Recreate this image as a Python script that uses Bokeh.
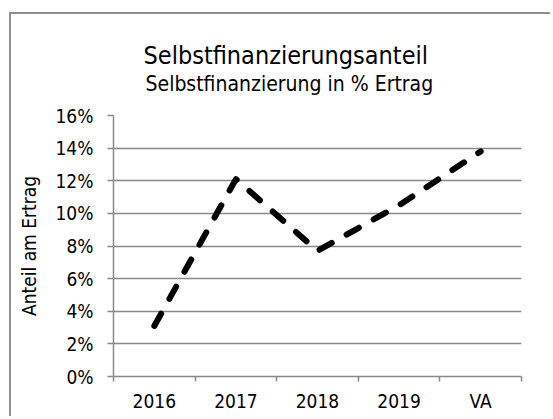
import numpy as np
from bokeh.plotting import figure
from bokeh.models import Range1d, FixedTicker, NumeralTickFormatter, Title, LinearAxis
from bokeh.embed import file_html
from bokeh.resources import INLINE

categories = ["2016", "2017", "2018", "2019", "VA"]
anteil = [0.031, 0.121, 0.077, 0.105, 0.138]
y_ticks = [0.0, 0.02, 0.04, 0.06, 0.08, 0.10, 0.12, 0.14, 0.16]
title_text = "Selbstfinanzierungsanteil"
subtitle_text = "Selbstfinanzierung in % Ertrag"
y_label = "Anteil am Ertrag"

FONT = "DejaVu Sans Condensed"
GRID = "#898989"

centers = [i + 0.5 for i in range(len(categories))]
bounds = list(range(len(categories) + 1))

p = figure(width=541, height=404, output_backend="svg", toolbar_location=None,
           title=title_text,
           x_range=Range1d(0, len(categories)), y_range=Range1d(y_ticks[0], y_ticks[-1]),
           min_border_left=102, min_border_right=31, min_border_top=101, min_border_bottom=42)
p.styles = {"border-left": "2px solid #8e8e8e", "border-top": "2px solid #8e8e8e"}
p.margin = (12, 0, 0, 9)
p.outline_line_color = None
p.background_fill_color = "white"
p.border_fill_color = "white"

p.title.text_font = FONT
p.title.text_font_size = "25px"
p.title.text_font_style = "normal"
p.title.text_color = "black"
p.title.align = "left"
p.title.offset = 30
p.title.standoff = 0

# x axis (below)
xa = p.below[0]
xa.ticker = FixedTicker(ticks=centers, minor_ticks=bounds)
xa.major_label_overrides = {c: cat for c, cat in zip(centers, categories)}
xa.major_tick_line_color = None
xa.minor_tick_line_color = GRID
xa.minor_tick_line_width = 1.5
xa.minor_tick_out = 5
xa.minor_tick_in = 0
xa.axis_line_color = GRID
xa.axis_line_width = 1.5
xa.major_label_standoff = 7
xa.major_label_text_font = FONT
xa.major_label_text_font_size = "19px"
xa.major_label_text_color = "black"

# invisible spacer (nearest the frame), then the subtitle above it
spacer = LinearAxis(ticker=FixedTicker(ticks=[0]), axis_line_color=None,
                    major_tick_out=20, major_tick_in=0, minor_tick_out=0, minor_tick_in=0,
                    major_tick_line_color="white", minor_tick_line_color=None,
                    major_label_overrides={0: ""}, major_label_text_font_size="0px",
                    major_label_standoff=0, axis_label_standoff=0)
p.add_layout(spacer, "above")
p.add_layout(Title(text=subtitle_text, text_font=FONT, text_font_size="21px",
                   text_font_style="normal", text_color="black", align="left",
                   offset=32, standoff=0), "above")

# y axis
ya = p.left[0]
ya.ticker = FixedTicker(ticks=y_ticks)
ya.formatter = NumeralTickFormatter(format="0%")
ya.major_tick_line_color = GRID
ya.major_tick_line_width = 1.5
ya.major_tick_out = 6
ya.major_tick_in = 0
ya.minor_tick_line_color = None
ya.axis_line_color = GRID
ya.axis_line_width = 1.5
ya.major_label_standoff = 14
ya.major_label_text_font = FONT
ya.major_label_text_font_size = "19px"
ya.major_label_text_color = "black"
ya.axis_label = y_label
ya.axis_label_text_font = FONT
ya.axis_label_text_font_size = "19px"
ya.axis_label_text_font_style = "normal"
ya.axis_label_text_color = "black"
ya.axis_label_standoff = 13

p.xgrid.visible = False
p.ygrid.ticker = FixedTicker(ticks=y_ticks)
p.ygrid.grid_line_color = GRID
p.ygrid.grid_line_width = 1.5

p.line(x=centers, y=anteil, line_color="black", line_width=6,
       line_dash="14 17", line_cap="round", line_join="round")

open("out.html", "w").write(file_html(p, INLINE))
